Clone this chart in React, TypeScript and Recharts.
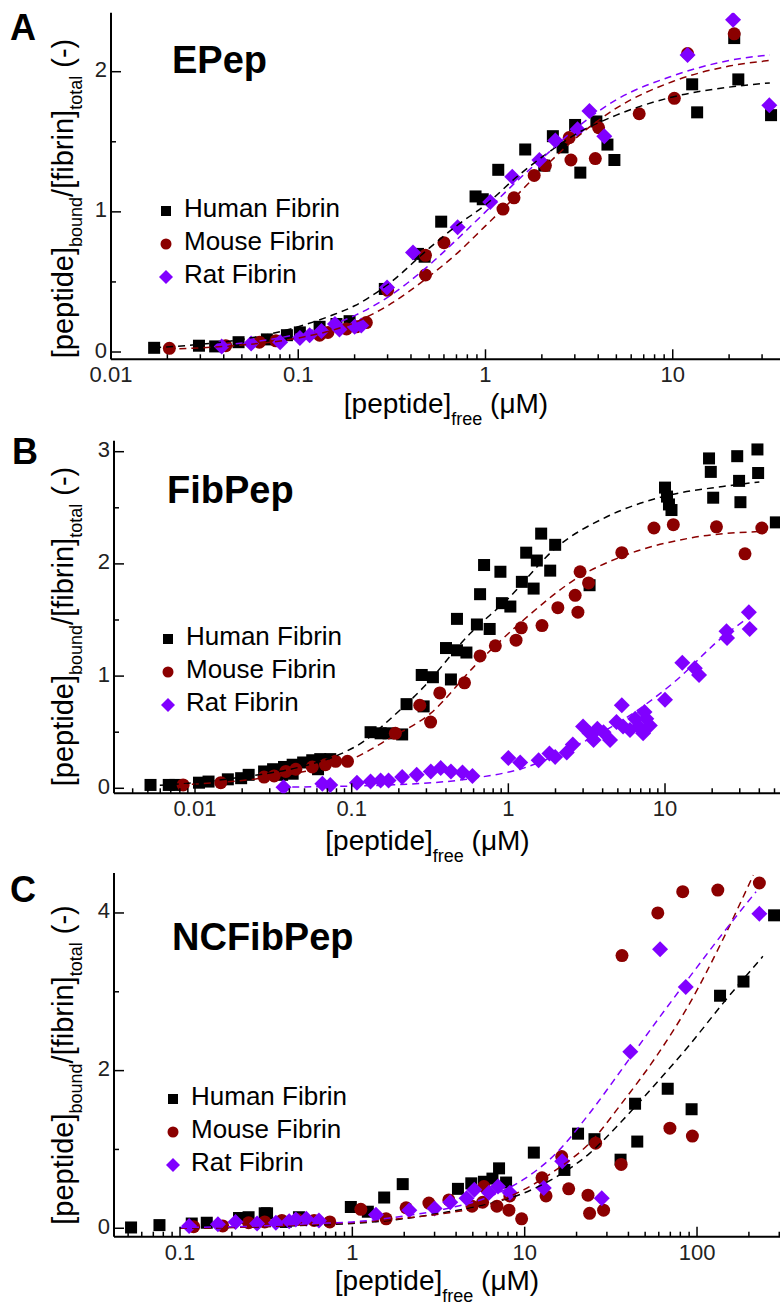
import React from 'react';
import { ComposedChart, Scatter, XAxis, YAxis, Legend, Customized } from 'recharts';

type P = [number, number];

// ---------- common ----------
const SERIES_NAMES = ['Human Fibrin', 'Mouse Fibrin', 'Rat Fibrin'];
const SERIES_COLORS = ['#000000', '#8B0000', '#8000FF'];
const FONT = '"Liberation Sans", Arial, Helvetica, sans-serif';

// ---------- Panel A : EPep ----------
const humanA: P[] = [
  [0.017, 0.03], [0.0295, 0.045], [0.036, 0.04], [0.048, 0.07], [0.068, 0.09], [0.087, 0.12], [0.102, 0.14],
  [0.13, 0.18], [0.16, 0.2], [0.188, 0.22], [0.29, 0.45], [0.436, 0.7], [0.473, 0.68], [0.58, 0.93],
  [0.885, 1.11], [0.967, 1.09], [1.17, 1.3], [1.63, 1.445], [2.06, 1.33], [2.29, 1.54], [2.58, 1.46],
  [3.01, 1.62], [3.21, 1.28], [3.91, 1.645], [4.48, 1.48], [4.88, 1.37], [12.7, 1.91], [13.5, 1.71],
  [21.3, 2.24], [22.4, 1.945], [33.5, 1.69],
];
const mouseA: P[] = [
  [0.0205, 0.026], [0.041, 0.045], [0.062, 0.07], [0.076, 0.08], [0.13, 0.12], [0.144, 0.14], [0.181, 0.165],
  [0.204, 0.18], [0.231, 0.21], [0.3, 0.44], [0.478, 0.69], [0.478, 0.55], [0.6, 0.78], [1.24, 1.02],
  [1.42, 1.1], [1.82, 1.26], [2.09, 1.33], [2.8, 1.53], [2.86, 1.37], [3.86, 1.38], [4.02, 1.6],
  [6.62, 1.7], [10.2, 1.81], [12.0, 2.13], [21.3, 2.27],
];
const ratA: P[] = [
  [0.039, 0.04], [0.056, 0.06], [0.08, 0.07], [0.102, 0.1], [0.115, 0.12], [0.133, 0.15], [0.157, 0.2],
  [0.166, 0.16], [0.2, 0.18], [0.217, 0.19], [0.298, 0.46], [0.41, 0.71], [0.71, 0.89], [1.06, 1.07],
  [1.39, 1.25], [1.94, 1.37], [2.36, 1.51], [3.1, 1.59], [3.59, 1.72], [4.31, 1.54], [12.0, 2.12],
  [21.0, 2.37], [32.8, 1.76],
];
const fitHumanA: P[] = [
  [0.017, 0.03], [0.03, 0.055], [0.05, 0.09], [0.1, 0.18], [0.15, 0.26], [0.2, 0.33], [0.3, 0.48],
  [0.5, 0.74], [0.7, 0.9], [1, 1.05], [1.5, 1.26], [2, 1.39], [3, 1.55], [5, 1.69], [10, 1.82], [20, 1.89], [33, 1.92],
];
const fitMouseA: P[] = [
  [0.02, 0.02], [0.05, 0.05], [0.1, 0.1], [0.2, 0.21], [0.3, 0.33], [0.5, 0.54], [0.7, 0.7], [1, 0.9],
  [1.5, 1.13], [2, 1.3], [3, 1.52], [5, 1.74], [10, 1.93], [20, 2.04], [33, 2.08],
];
const fitRatA: P[] = [
  [0.04, 0.05], [0.1, 0.13], [0.2, 0.26], [0.3, 0.39], [0.5, 0.62], [0.7, 0.8], [1, 1.0], [1.5, 1.23],
  [2, 1.38], [3, 1.59], [5, 1.8], [10, 1.97], [20, 2.08], [33, 2.12],
];
const xMajorA = [0.01, 0.1, 1, 10];
const xMinorA = [0.02, 0.03, 0.04, 0.05, 0.06, 0.07, 0.08, 0.09, 0.2, 0.3, 0.4, 0.5, 0.6, 0.7, 0.8, 0.9,
  2, 3, 4, 5, 6, 7, 8, 9, 20, 30];
const yMajorA = [0, 1, 2];
const yMinorA = [0.5, 1.5];

// ---------- Panel B : FibPep ----------
const humanB: P[] = [
  [0.0052, 0.03], [0.0068, 0.03], [0.0075, 0.03], [0.0106, 0.05], [0.0122, 0.06], [0.0162, 0.08], [0.0197, 0.09],
  [0.022, 0.12], [0.0276, 0.15], [0.0315, 0.17], [0.037, 0.19], [0.042, 0.21], [0.049, 0.23], [0.056, 0.25],
  [0.063, 0.26], [0.073, 0.26], [0.036, 0.12], [0.042, 0.13], [0.061, 0.17],
  [0.132, 0.5], [0.153, 0.49], [0.172, 0.49], [0.21, 0.48], [0.224, 0.75], [0.288, 0.73], [0.28, 1.01],
  [0.33, 0.99], [0.43, 0.97], [0.4, 1.25], [0.47, 1.23], [0.54, 1.21], [0.47, 1.51], [0.63, 1.46],
  [0.76, 1.42], [0.66, 1.73], [0.91, 1.65], [1.03, 1.62], [0.7, 1.99], [0.89, 1.93], [1.22, 1.84],
  [1.45, 1.78], [1.3, 2.1], [1.52, 2.03], [1.85, 1.94], [1.62, 2.27], [1.99, 2.17], [3.3, 1.81],
  [10.0, 2.68], [10.3, 2.6], [10.6, 2.53], [11.0, 2.48], [19.1, 2.94], [19.6, 2.82], [20.3, 2.59],
  [28.9, 2.96], [29.7, 2.74], [30.3, 2.55], [38.9, 3.02], [39.3, 2.81], [51, 2.37],
];
const mouseB: P[] = [
  [0.0084, 0.03], [0.0146, 0.05], [0.0276, 0.1], [0.032, 0.11], [0.038, 0.15], [0.044, 0.17], [0.056, 0.19],
  [0.068, 0.21], [0.079, 0.24], [0.094, 0.24], [0.19, 0.49], [0.272, 0.74], [0.319, 0.59], [0.365, 0.85],
  [0.525, 0.94], [0.66, 1.18], [0.826, 1.27], [1.12, 1.32], [1.21, 1.43], [1.64, 1.45], [2.07, 1.61],
  [2.67, 1.72], [2.78, 1.57], [2.87, 1.93], [3.25, 1.83], [5.3, 2.1], [8.5, 2.32], [11.3, 2.35],
  [21.3, 2.33], [32.4, 2.09], [41.5, 2.32],
];
const ratB: P[] = [
  [0.0367, 0.01], [0.065, 0.04], [0.073, 0.03], [0.108, 0.05], [0.132, 0.06], [0.153, 0.07], [0.172, 0.07],
  [0.21, 0.1], [0.26, 0.12], [0.32, 0.15], [0.37, 0.18], [0.43, 0.15], [0.51, 0.14], [0.59, 0.11],
  [1.0, 0.27], [1.19, 0.23], [1.56, 0.25], [1.83, 0.31], [1.99, 0.28], [2.36, 0.32], [2.58, 0.39],
  [3.0, 0.55], [3.3, 0.49], [3.5, 0.43], [3.7, 0.53], [4.05, 0.5], [4.46, 0.43], [4.9, 0.59], [5.3, 0.74],
  [5.4, 0.55], [5.98, 0.52], [6.45, 0.62], [6.76, 0.55], [7.25, 0.49], [7.6, 0.62], [8.0, 0.56], [7.4, 0.68],
  [10, 0.79], [12.9, 1.12], [15.5, 1.07], [16.5, 1.01], [24.7, 1.4], [24.9, 1.34], [34.3, 1.57], [34.7, 1.42],
];
const fitHumanB: P[] = [
  [0.005, 0.02], [0.01, 0.05], [0.02, 0.1], [0.05, 0.2], [0.08, 0.29], [0.12, 0.42], [0.177, 0.62],
  [0.287, 0.9], [0.57, 1.38], [0.98, 1.68], [2.04, 2.15], [4.25, 2.42], [9.75, 2.6], [23.4, 2.69], [40, 2.73],
];
const fitMouseB: P[] = [
  [0.008, 0.03], [0.02, 0.07], [0.05, 0.15], [0.1, 0.26], [0.177, 0.45], [0.32, 0.67], [0.6, 1.08],
  [1.25, 1.5], [2.87, 1.89], [5.4, 2.07], [14.4, 2.23], [42, 2.29],
];
const fitRatB: P[] = [
  [0.035, 0.01], [0.1, 0.02], [0.177, 0.03], [0.6, 0.09], [1.25, 0.18], [2.6, 0.37], [5.4, 0.61],
  [11.3, 0.94], [23.4, 1.35], [34.7, 1.53],
];
const xMajorB = [0.01, 0.1, 1, 10];
const xMinorB = [0.004, 0.005, 0.006, 0.007, 0.008, 0.009, 0.02, 0.03, 0.04, 0.05, 0.06, 0.07, 0.08, 0.09,
  0.2, 0.3, 0.4, 0.5, 0.6, 0.7, 0.8, 0.9, 2, 3, 4, 5, 6, 7, 8, 9, 20, 30, 40, 50];
const yMajorB = [0, 1, 2, 3];
const yMinorB = [0.5, 1.5, 2.5];

// ---------- Panel C : NCFibPep ----------
const humanC: P[] = [
  [0.052, 0.01], [0.076, 0.04], [0.117, 0.06], [0.143, 0.07], [0.22, 0.13], [0.25, 0.14], [0.31, 0.19],
  [0.32, 0.19], [0.41, 0.08], [0.49, 0.14], [0.98, 0.27], [1.23, 0.21], [1.53, 0.39], [1.96, 0.56],
  [4.1, 0.5], [4.9, 0.57], [5.8, 0.59], [6.5, 0.63], [7.1, 0.76], [7.8, 0.58], [11.3, 0.96], [17, 0.74],
  [20.4, 1.2], [25.4, 1.13], [36, 0.87], [43.7, 1.58], [45, 1.1], [67.6, 1.77], [93, 1.51], [136, 2.95],
  [186, 3.13], [280, 3.97],
];
const mouseC: P[] = [
  [0.12, 0.02], [0.177, 0.03], [0.25, 0.07], [0.31, 0.08], [0.39, 0.1], [0.48, 0.11], [0.6, 0.1], [0.74, 0.08],
  [1.12, 0.24], [1.57, 0.12], [2.05, 0.26], [2.78, 0.32], [3.63, 0.36], [4.95, 0.28], [5.7, 0.33], [5.8, 0.53],
  [6.9, 0.28], [8.1, 0.23], [8.2, 0.41], [9.6, 0.12], [12.6, 0.64], [13.3, 0.41], [16.4, 0.91], [18, 0.5],
  [23.3, 0.42], [23.8, 0.19], [25.8, 1.08], [28.7, 0.23], [36.3, 0.81], [36.7, 3.46], [59.2, 4.0], [69.6, 1.27],
  [82.6, 4.27], [94, 1.17], [132, 4.29], [230, 4.38],
];
const ratC: P[] = [
  [0.113, 0.03], [0.166, 0.05], [0.21, 0.08], [0.28, 0.06], [0.36, 0.07], [0.43, 0.09], [0.47, 0.11],
  [0.54, 0.12], [0.64, 0.1], [1.37, 0.17], [2.14, 0.23], [3.0, 0.25], [3.7, 0.33], [4.6, 0.38], [5.1, 0.49],
  [6.2, 0.45], [7.0, 0.53], [8.2, 0.45], [12.9, 0.51], [16.5, 0.85], [28, 0.38], [41, 2.24], [61, 3.54],
  [86, 3.06], [230, 3.99],
];
const fitHumanC: P[] = [
  [0.1, 0.0], [0.3, 0.02], [0.6, 0.04], [1.0, 0.06], [1.64, 0.1], [3.2, 0.19], [6.2, 0.31], [9.7, 0.44],
  [15.2, 0.65], [23.8, 0.95], [37, 1.37], [58, 1.84], [90, 2.32], [141, 2.85], [241, 3.45],
];
const fitMouseC: P[] = [
  [0.1, 0.0], [0.3, 0.02], [0.6, 0.05], [1.0, 0.07], [1.64, 0.11], [3.2, 0.18], [6.2, 0.3], [9.7, 0.48],
  [15.2, 0.74], [23.8, 1.08], [37, 1.6], [58, 2.18], [90.5, 2.85], [141, 3.66], [212, 4.48],
];
const fitRatC: P[] = [
  [0.1, 0.01], [0.3, 0.03], [0.6, 0.06], [1.0, 0.08], [1.64, 0.13], [3.2, 0.23], [6.2, 0.4], [9.7, 0.61],
  [15.2, 0.95], [23.8, 1.46], [37, 2.03], [58, 2.62], [90, 3.18], [141, 3.74], [220, 4.27],
];
const xMajorC = [0.1, 1, 10, 100];
const xMinorC = [0.05, 0.06, 0.07, 0.08, 0.09, 0.2, 0.3, 0.4, 0.5, 0.6, 0.7, 0.8, 0.9, 2, 3, 4, 5, 6, 7, 8, 9,
  20, 30, 40, 50, 60, 70, 80, 90, 200, 300];
const yMajorC = [0, 2, 4];
const yMinorC = [1, 3];

// ---------- helpers ----------
const toPts = (a: P[]) => a.map(([x, y]) => ({ x, y }));

const SquareShape = (p: any) => <rect x={p.cx - 6} y={p.cy - 6} width={12} height={12} fill={p.fill} />;
const CircleShape = (p: any) => <circle cx={p.cx} cy={p.cy} r={6.5} fill={p.fill} />;
const DiamondShape = (p: any) => (
  <polygon points={`${p.cx},${p.cy - 8} ${p.cx + 8},${p.cy} ${p.cx},${p.cy + 8} ${p.cx - 8},${p.cy}`} fill={p.fill} />
);
const NoShape = () => <g />;
const SHAPES = [SquareShape, CircleShape, DiamondShape];

const isIn = (arr: number[], v: number) => arr.some((m) => Math.abs(m - v) <= Math.abs(m) * 1e-6 + 1e-12);

const makeXTick = (majors: number[]) => (props: any) => {
  const { x, y, payload } = props;
  const v = payload.value;
  const major = isIn(majors, v);
  return (
    <g>
      <line x1={x} x2={x} y1={y} y2={y - (major ? 10 : 5)} stroke="#000" strokeWidth={1.5} />
      {major && (
        <text x={x} y={y + 23} textAnchor="middle" fontSize={22} fontFamily={FONT} fill="#222">
          {String(v)}
        </text>
      )}
    </g>
  );
};

const makeYTick = (majors: number[]) => (props: any) => {
  const { x, y, payload } = props;
  const v = payload.value;
  const major = isIn(majors, v);
  return (
    <g>
      <line x1={x} x2={x + (major ? 10 : 5)} y1={y} y2={y} stroke="#000" strokeWidth={1.5} />
      {major && (
        <text x={x - 4} y={y} dy="0.25em" textAnchor="end" fontSize={22} fontFamily={FONT} fill="#222">
          {String(v)}
        </text>
      )}
    </g>
  );
};

const LegendBox = (props: any) => {
  const items = (props.payload || []).filter((it: any) => SERIES_NAMES.includes(it.value));
  return (
    <svg width={230} height={110} style={{ display: 'block', overflow: 'visible' }}>
      {items.map((it: any) => {
        const i = SERIES_NAMES.indexOf(it.value);
        const base = 27 + i * 33;
        const cx = 10;
        const cy = base - 6;
        const c = SERIES_COLORS[i];
        return (
          <g key={it.value}>
            {i === 0 && <rect x={cx - 5} y={cy - 5} width={10} height={10} fill={c} />}
            {i === 1 && <circle cx={cx} cy={cy} r={5.5} fill={c} />}
            {i === 2 && <polygon points={`${cx},${cy - 7} ${cx + 7},${cy} ${cx},${cy + 7} ${cx - 7},${cy}`} fill={c} />}
            <text x={28} y={base} fontSize={26} fontFamily={FONT} fill="#000">
              {it.value}
            </text>
          </g>
        );
      })}
    </svg>
  );
};

type PanelCfg = {
  top: number;
  height: number;
  margin: { top: number; right: number; bottom: number; left: number };
  xDomain: [number, number];
  yDomain: [number, number];
  xMajor: number[];
  xMinor: number[];
  yMajor: number[];
  yMinor: number[];
  series: P[][];
  fits: P[][];
  letter: string;
  letterPos: [number, number];
  title: string;
  titlePos: [number, number];
  yTitle: [number, number];
  xTitle: [number, number];
  legend: [number, number];
};

const Overlay = ({ cfg }: { cfg: PanelCfg }) => (
  <g fontFamily={FONT}>
    <text x={cfg.letterPos[0]} y={cfg.letterPos[1]} fontSize={36} fontWeight="bold" fill="#000">
      {cfg.letter}
    </text>
    <text x={cfg.titlePos[0]} y={cfg.titlePos[1]} fontSize={38} fontWeight="bold" fill="#000">
      {cfg.title}
    </text>
    <text
      transform={`translate(${cfg.yTitle[0]},${cfg.yTitle[1]}) rotate(-90)`}
      x={0}
      y={0}
      textAnchor="middle"
      fontSize={29}
      fill="#000"
    >
      [peptide]
      <tspan fontSize={18} dy={9}>bound</tspan>
      <tspan dy={-9}>/[fibrin]</tspan>
      <tspan fontSize={18} dy={9}>total</tspan>
      <tspan dy={-9}> (-)</tspan>
    </text>
    <text x={cfg.xTitle[0]} y={cfg.xTitle[1]} textAnchor="middle" fontSize={28} fill="#000">
      [peptide]
      <tspan fontSize={18} dy={12}>free</tspan>
      <tspan dy={-12}> (μM)</tspan>
    </text>
  </g>
);

const Panel = ({ cfg }: { cfg: PanelCfg }) => (
  <div style={{ position: 'absolute', left: 0, top: cfg.top, width: 780, height: cfg.height }}>
    <ComposedChart width={780} height={cfg.height} margin={cfg.margin}>
      <XAxis
        type="number"
        dataKey="x"
        scale="log"
        domain={cfg.xDomain}
        allowDataOverflow
        ticks={[...cfg.xMajor, ...cfg.xMinor]}
        interval={0}
        tickSize={0}
        tickMargin={0}
        tickLine={false}
        tick={makeXTick(cfg.xMajor)}
        axisLine={{ stroke: '#000', strokeWidth: 2 }}
        height={30}
      />
      <YAxis
        type="number"
        dataKey="y"
        domain={cfg.yDomain}
        allowDataOverflow
        ticks={[...cfg.yMajor, ...cfg.yMinor]}
        interval={0}
        tickSize={0}
        tickMargin={0}
        tickLine={false}
        tick={makeYTick(cfg.yMajor)}
        axisLine={{ stroke: '#000', strokeWidth: 2 }}
        width={40}
      />
      {cfg.series.map((s, i) => (
        <Scatter
          key={SERIES_NAMES[i]}
          name={SERIES_NAMES[i]}
          data={toPts(s)}
          fill={SERIES_COLORS[i]}
          shape={SHAPES[i]}
          isAnimationActive={false}
        />
      ))}
      {cfg.fits.map((f, i) => (
        <Scatter
          key={'fit' + i}
          name={'fit ' + SERIES_NAMES[i]}
          data={toPts(f)}
          fill={SERIES_COLORS[i]}
          shape={NoShape}
          line={{ stroke: SERIES_COLORS[i], strokeWidth: 1.5, strokeDasharray: '7 5' }}
          lineType="joint"
          lineJointType="monotoneX"
          legendType="none"
          isAnimationActive={false}
        />
      ))}
      <Legend
        layout="vertical"
        align="center"
        verticalAlign="middle"
        wrapperStyle={{ left: cfg.legend[0] - 10, top: cfg.legend[1] - 27, width: 230, height: 110 }}
        content={(p: any) => <LegendBox payload={p.payload} />}
      />
      <Customized component={<Overlay cfg={cfg} />} />
    </ComposedChart>
  </div>
);

const panelA: PanelCfg = {
  top: 0,
  height: 430,
  margin: { top: 12.7, right: 0, bottom: 40.7, left: 71 },
  xDomain: [0.01, 37.4],
  yDomain: [-0.052, 2.421],
  xMajor: xMajorA,
  xMinor: xMinorA,
  yMajor: yMajorA,
  yMinor: yMinorA,
  series: [humanA, mouseA, ratA],
  fits: [fitHumanA, fitMouseA, fitRatA],
  letter: 'A',
  letterPos: [10, 40],
  title: 'EPep',
  titlePos: [172, 73],
  yTitle: [73, 198.5],
  xTitle: [446, 413],
  legend: [166, 217],
};

const panelB: PanelCfg = {
  top: 430,
  height: 435,
  margin: { top: 10.7, right: 0, bottom: 41.7, left: 74 },
  xDomain: [0.00304, 54.2],
  yDomain: [-0.0446, 3.098],
  xMajor: xMajorB,
  xMinor: xMinorB,
  yMajor: yMajorB,
  yMinor: yMinorB,
  series: [humanB, mouseB, ratB],
  fits: [fitHumanB, fitMouseB, fitRatB],
  letter: 'B',
  letterPos: [12, 34],
  title: 'FibPep',
  titlePos: [167, 73.3],
  yTitle: [73, 196.5],
  xTitle: [427.5, 420],
  legend: [168, 215],
};

const panelC: PanelCfg = {
  top: 865,
  height: 442,
  margin: { top: 8, right: 0, bottom: 40.3, left: 74 },
  xDomain: [0.0414, 303],
  yDomain: [-0.107, 4.507],
  xMajor: xMajorC,
  xMinor: xMinorC,
  yMajor: yMajorC,
  yMinor: yMinorC,
  series: [humanC, mouseC, ratC],
  fits: [fitHumanC, fitMouseC, fitRatC],
  letter: 'C',
  letterPos: [10, 36.7],
  title: 'NCFibPep',
  titlePos: [172, 85],
  yTitle: [73, 200],
  xTitle: [437, 425],
  legend: [173, 240],
};

export default function App() {
  return (
    <div style={{ position: 'absolute', left: 0, top: 0, width: 780, height: 1307, background: '#fff', overflow: 'hidden' }}>
      <Panel cfg={panelA} />
      <Panel cfg={panelB} />
      <Panel cfg={panelC} />
    </div>
  );
}
